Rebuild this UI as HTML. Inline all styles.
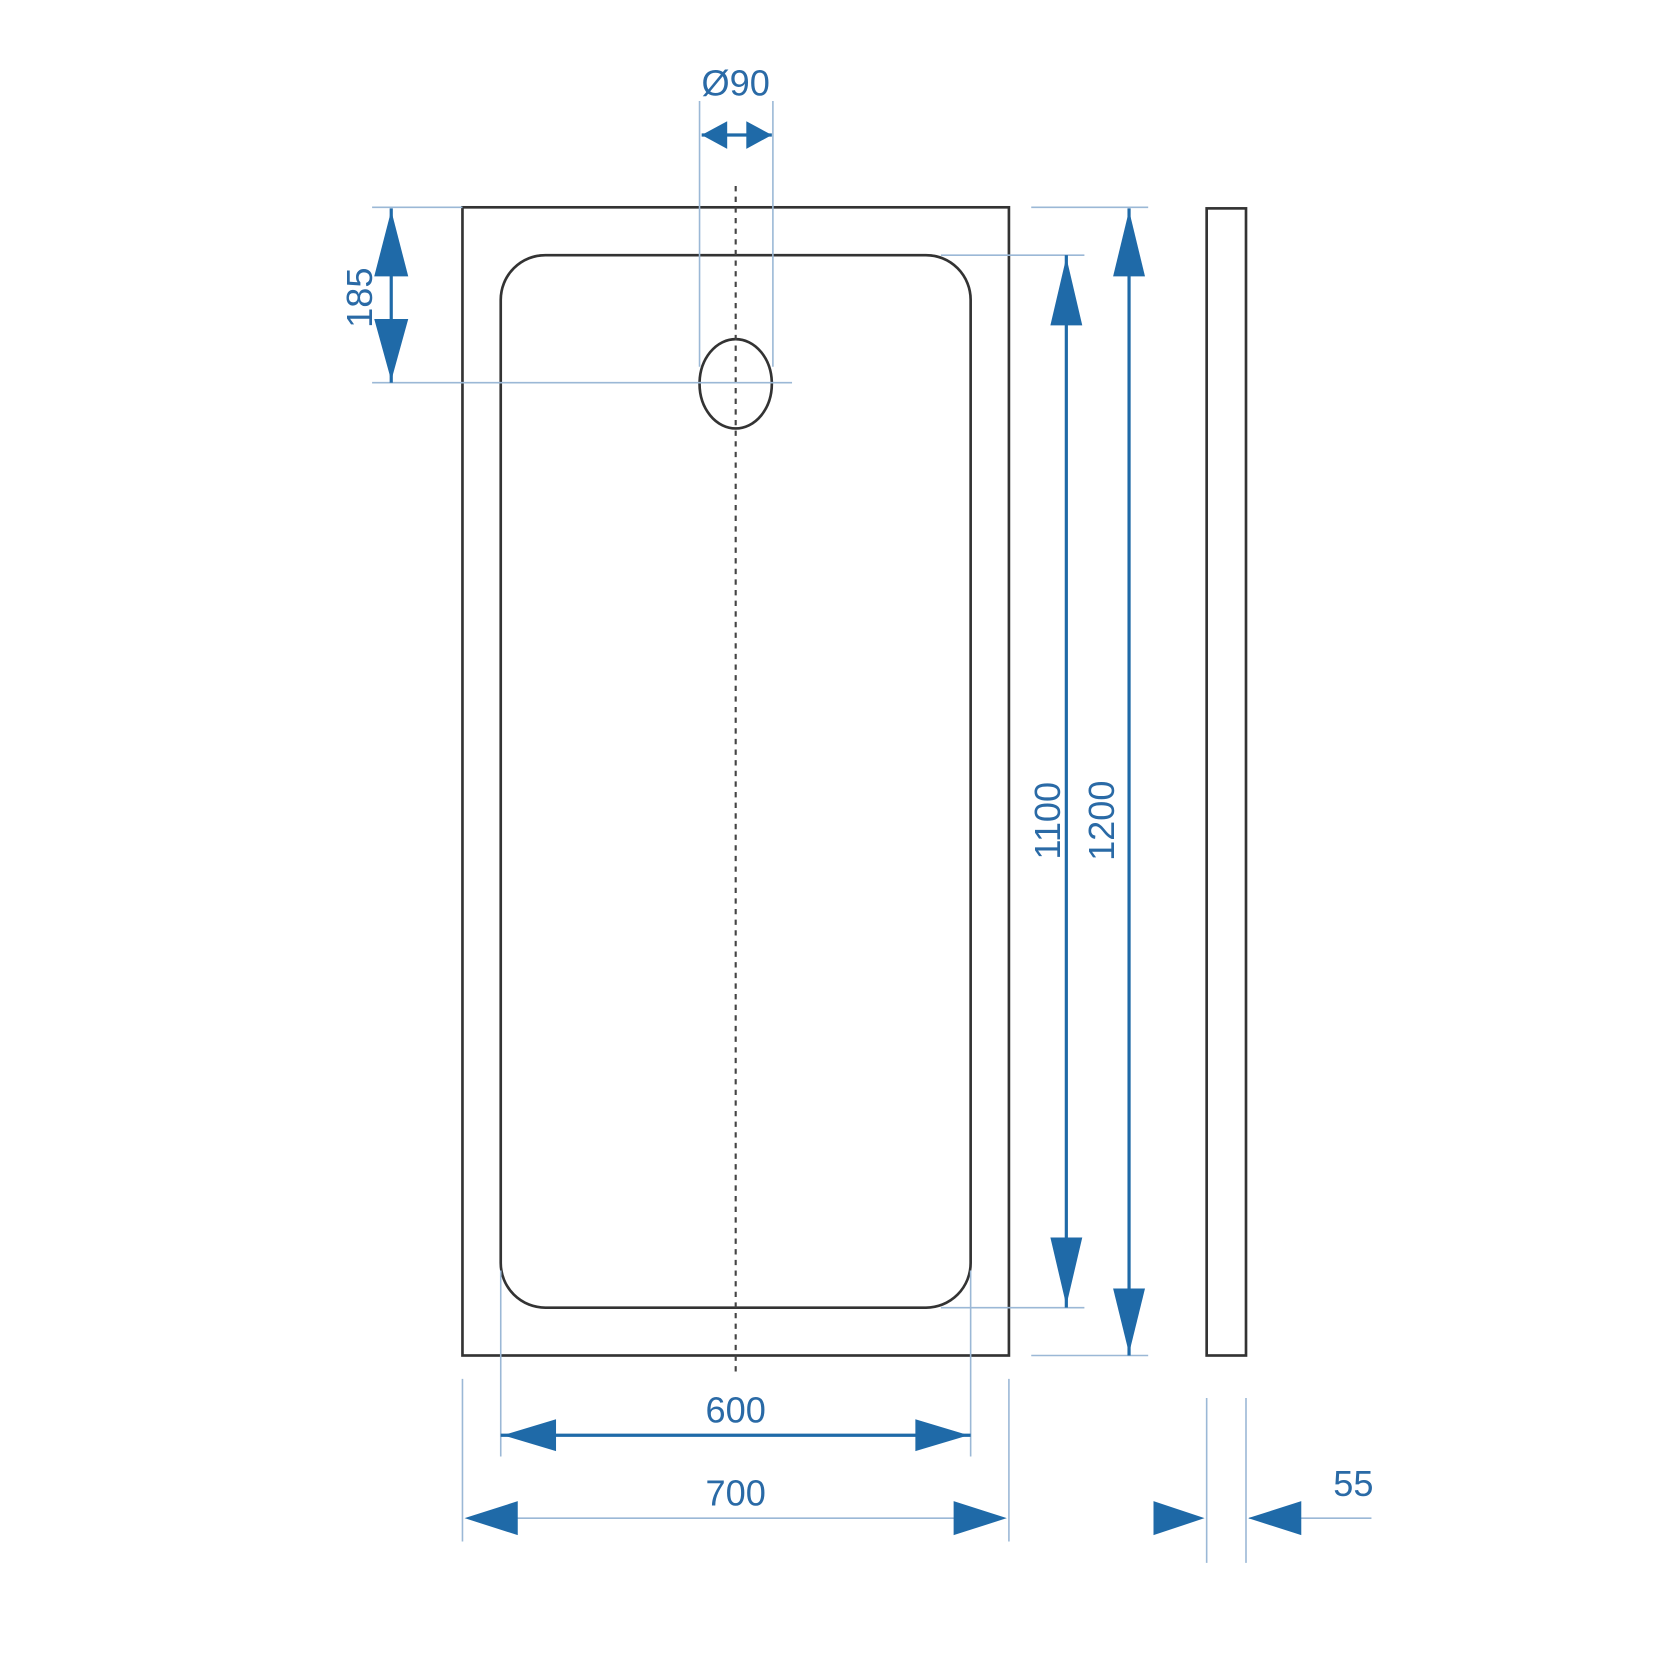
<!DOCTYPE html>
<html><head><meta charset="utf-8"><style>
html,body{margin:0;padding:0;background:#fff;}
svg{display:block;}
text{font-family:"Liberation Sans",sans-serif;fill:#2a6aa6;font-size:34px;}
</style></head><body>
<svg width="1667" height="1667" viewBox="0 0 1568 1568" xmlns="http://www.w3.org/2000/svg">
<defs>
<marker id="a" viewBox="0 0 10 10" refX="10" refY="5" markerWidth="10" markerHeight="10" markerUnits="userSpaceOnUse" orient="auto"></marker>
</defs>
<g fill="none" stroke="#333" stroke-width="2.5">
<rect x="435" y="195" width="514" height="1080"/>
<rect x="471" y="240" width="442" height="990" rx="42"/>
<ellipse cx="692" cy="361" rx="34" ry="42"/>
<rect x="1135" y="196" width="37" height="1079"/>
</g>
<line x1="692" y1="175" x2="692" y2="1292" stroke="#444" stroke-width="2" stroke-dasharray="5,5"/>
<g stroke="#9bb8d6" stroke-width="1.5" fill="none">
<line x1="658" y1="95" x2="658" y2="345"/><line x1="727" y1="95" x2="727" y2="345"/>
<line x1="350" y1="195" x2="435" y2="195"/><line x1="350" y1="360" x2="745" y2="360"/>
<line x1="885" y1="240" x2="1020" y2="240"/><line x1="885" y1="1230" x2="1020" y2="1230"/>
<line x1="970" y1="195" x2="1080" y2="195"/><line x1="970" y1="1275" x2="1080" y2="1275"/>
<line x1="471" y1="1195" x2="471" y2="1370"/><line x1="913" y1="1195" x2="913" y2="1370"/>
<line x1="435" y1="1297" x2="435" y2="1450"/><line x1="949" y1="1297" x2="949" y2="1450"/>
<line x1="1135" y1="1315" x2="1135" y2="1470"/><line x1="1172" y1="1315" x2="1172" y2="1470"/>
<line x1="1175" y1="1428" x2="1290" y2="1428"/><line x1="485" y1="1428" x2="900" y2="1428"/>
</g>
<g stroke="#1f6aa8" stroke-width="3" fill="none">
<line x1="660" y1="127" x2="726" y2="127"/>
<line x1="368" y1="196" x2="368" y2="360"/>
<line x1="1003" y1="240" x2="1003" y2="1230"/>
<line x1="1062" y1="196" x2="1062" y2="1275"/>
<line x1="471" y1="1350" x2="913" y2="1350"/>
</g>
<g fill="#1f6aa8">
<polygon points="660,127 684,114 684,140"/><polygon points="726,127 702,114 702,140"/>
<polygon points="368,198 352,260 384,260"/><polygon points="368,358 352,300 384,300"/>
<polygon points="1003,242 988,306 1018,306"/><polygon points="1003,1228 988,1164 1018,1164"/>
<polygon points="1062,198 1047,260 1077,260"/><polygon points="1062,1273 1047,1212 1077,1212"/>
<polygon points="473,1350 523,1335 523,1365"/><polygon points="911,1350 861,1335 861,1365"/>
<polygon points="437,1428 487,1412 487,1444"/><polygon points="947,1428 897,1412 897,1444"/>
<polygon points="1133,1428 1085,1412 1085,1444"/><polygon points="1174,1428 1224,1412 1224,1444"/>
</g>
<text x="692" y="90" text-anchor="middle">Ø90</text>
<text x="692" y="1338" text-anchor="middle">600</text>
<text x="692" y="1416" text-anchor="middle">700</text>
<text x="1273" y="1407" text-anchor="middle">55</text>
<text transform="translate(350,280) rotate(-90)" text-anchor="middle">185</text>
<text transform="translate(997,772) rotate(-90)" text-anchor="middle">1100</text>
<text transform="translate(1048,772) rotate(-90)" text-anchor="middle">1200</text>
</svg>
</body></html>
